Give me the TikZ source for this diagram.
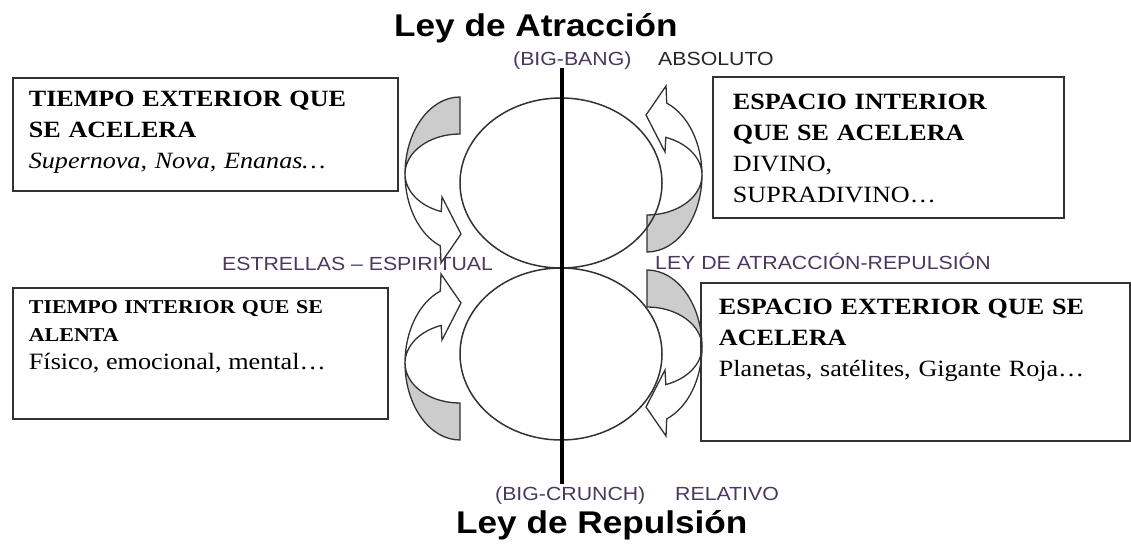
\documentclass[tikz,border=0pt]{standalone}
\usepackage{fontspec}
\setmainfont{Liberation Serif}[FakeStretch=1.12]
\newfontfamily\sansfont{Liberation Sans}[FakeStretch=1.12]
\definecolor{lblcol}{RGB}{75,55,95}
\definecolor{bandgray}{RGB}{204,204,204}
\definecolor{edgecol}{RGB}{50,50,50}
\tikzset{
  box/.style={draw=edgecol,line width=1.8pt,anchor=north west,align=left,font=\fontsize{23.3}{31}\selectfont},
  lbl/.style={anchor=base west,inner sep=0pt,text=lblcol,font=\sansfont\fontsize{19}{19}\selectfont},
  ttl/.style={anchor=base west,inner sep=0pt,font=\sansfont\bfseries\fontsize{31.4}{32}\selectfont},
  band/.style={draw=edgecol,line width=1.3pt},
  curvarr/.pic={
    % back of the band
    \path[band,fill=bandgray] (0,0) arc[start angle=90,end angle=180,x radius=55pt,y radius=77pt]
      arc[start angle=180,end angle=90,x radius=55pt,y radius=40pt] -- cycle;
    % front of the band and head
    \path[band,fill=white] (-55,-77) arc[start angle=180,end angle=249,x radius=55pt,y radius=77pt]
      -- (-19,-166) -- (1,-137) -- (-18,-100) -- (-18.8,-114.6)
      arc[start angle=250,end angle=180,x radius=55pt,y radius=40pt] -- cycle;
  }
}
\begin{document}
\begin{tikzpicture}[x=1pt,y=1pt]
  \useasboundingbox (0,0) rectangle (1131,543);
  %TITLES
  \node[ttl] (atraccion) at (394,506) {Ley de Atracción};
  \node[ttl] (repulsion) at (456,10) {Ley de Repulsión};
  \node[lbl] (bigbang) at (513,477) {(BIG-BANG)};
  \node[lbl,text=black!85] (absoluto) at (658,477) {ABSOLUTO};
  \node[lbl] (bigcrunch) at (495,43) {(BIG-CRUNCH)};
  \node[lbl] (relativo) at (675,43) {RELATIVO};
  \node[lbl] (estrellas) at (222,272) {ESTRELLAS – ESPIRITUAL};
  \node[lbl] (leyatrrep) at (655,273) {LEY DE ATRACCIÓN-REPULSIÓN};

  %LOOPS
  \pic (ularr) at (460,446) {curvarr};
  \pic[yscale=-1] (llarr) at (460,103) {curvarr};
  \pic[xscale=-1,yscale=-1] (urarr) at (647,291) {curvarr};
  \pic[xscale=-1] (lrarr) at (647,273) {curvarr};
  \draw[edgecol,line width=1.5pt] (561,360) ellipse[x radius=101pt,y radius=85pt];
  \draw[edgecol,line width=1.5pt] (561,189) ellipse[x radius=101pt,y radius=86pt];
  \coordinate (bang) at (562,475);
  \coordinate (crunch) at (562,59);
  \draw[line width=3.5pt] (bang) -- (crunch);

  %BOXES
  \node[box,inner xsep=16pt,inner ysep=12.7pt,text width=353pt,text depth=72.3pt] (tiempoext) at (12,466)
    {\textbf{TIEMPO EXTERIOR QUE\\ SE ACELERA}\\ \textit{Supernova, Nova, Enanas…}};
  \node[box,inner xsep=20pt,inner ysep=16.7pt,text width=311pt,text depth=92.3pt] (espacioint) at (712,467)
    {\textbf{ESPACIO INTERIOR\\ QUE SE ACELERA}\\ DIVINO,\\ SUPRADIVINO…};
  \node[box,inner xsep=16pt,inner ysep=12.2pt,text width=343pt,text depth=93.8pt,font=\fontsize{19.6}{28}\selectfont] (tiempoint) at (12,256)
    {\textbf{TIEMPO INTERIOR QUE SE\\ ALENTA}\\ {\fontsize{23.4}{28}\selectfont Físico, emocional, mental…}};
  \node[box,inner xsep=18pt,inner ysep=15.7pt,text width=393pt,text depth=111.3pt] (espacioext) at (700,261)
    {\textbf{ESPACIO EXTERIOR QUE SE\\ ACELERA}\\ Planetas, satélites, Gigante Roja…};
\end{tikzpicture}
\end{document}
